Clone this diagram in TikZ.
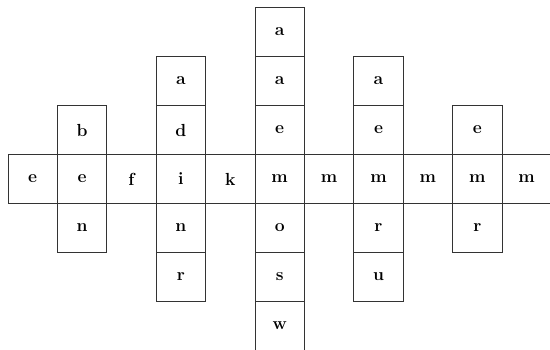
\documentclass[tikz,border=0pt]{standalone}
\usepackage{fontspec}

\begin{document}
\begin{tikzpicture}[x=49.4pt,y=49pt,
cell/.style={draw=black!80,line width=0.8pt,minimum width=49.4pt,minimum height=49pt,inner sep=0pt,
  font=\bfseries\fontsize{17.5}{21}\selectfont}]
\useasboundingbox[fill=white] (-8pt,-146.5pt) rectangle (542pt,203.5pt);
% the long row
\foreach \t [count=\c from 0] in {e,e,f,i,k,m,m,m,m,m,m}
  \node[cell] (c\c r0) at (\c+0.5,0.5) {\t};
% the columns crossing it
\foreach \c/\r/\t in {1/1/b,1/-1/n,
  3/2/a,3/1/d,3/-1/n,3/-2/r,
  5/3/a,5/2/a,5/1/e,5/-1/o,5/-2/s,5/-3/w,
  7/2/a,7/1/e,7/-1/r,7/-2/u,
  9/1/e,9/-1/r}
  \node[cell] (c\c r\r) at (\c+0.5,\r+0.5) {\t};
\end{tikzpicture}
\end{document}
